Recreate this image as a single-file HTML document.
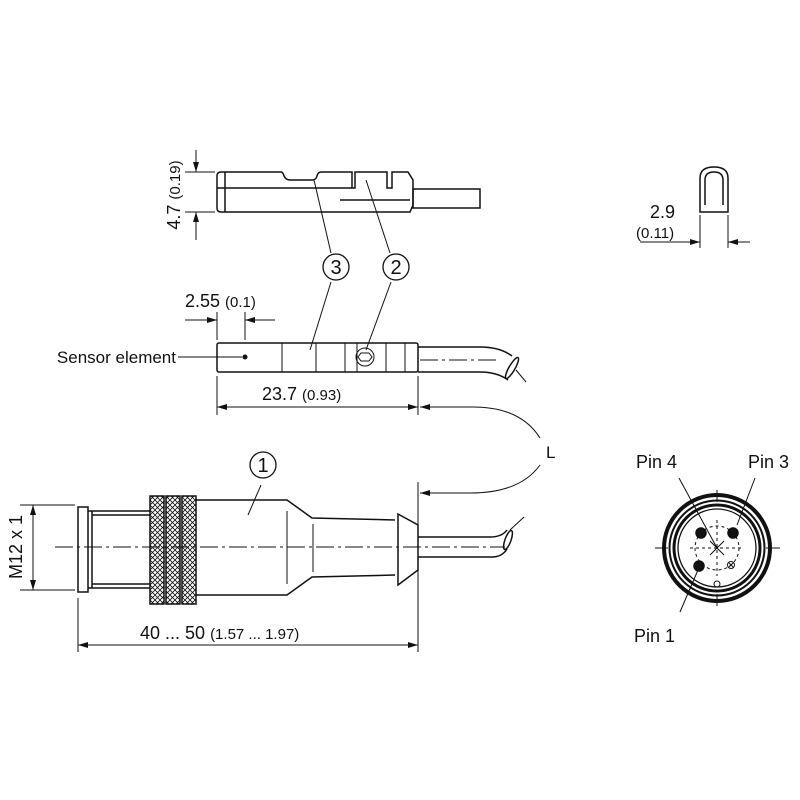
<!DOCTYPE html>
<html><head><style>body{margin:0;background:#fff}svg{display:block}text{font-family:"Liberation Sans",sans-serif;fill:#111}</style></head><body>
<svg width="800" height="800" viewBox="0 0 800 800" xmlns="http://www.w3.org/2000/svg">
<defs>
<marker id="a" markerWidth="10" markerHeight="6" refX="10" refY="3" orient="auto" markerUnits="userSpaceOnUse"><path d="M0,0L10,3L0,6z" fill="#111"/></marker>
<pattern id="k" width="5" height="5" patternUnits="userSpaceOnUse"><path d="M0,0L5,5M5,0L0,5" stroke="#111" stroke-width="0.8"/></pattern>
</defs>
<g fill="none" stroke="#111" stroke-width="1.5">
<!-- top view -->
<path d="M221,172H281Q283,172 284,176Q286,180 290,180H312Q316,180 317,176Q318,172 321,172H352V188H355V172H387V188H392V172H408L413,180V205L410,212H221Q217,212 217,208V176Q217,172 221,172Z"/>
<line x1="217" y1="188" x2="352" y2="188"/><line x1="340" y1="200" x2="410" y2="200"/><line x1="225" y1="172" x2="225" y2="212"/>
<rect x="413" y="189" width="67" height="19"/>
<g stroke-width="1"><line x1="185" y1="172" x2="215" y2="172"/><line x1="185" y1="212" x2="215" y2="212"/>
<line x1="196" y1="150" x2="196" y2="172" marker-end="url(#a)"/><line x1="196" y1="240" x2="196" y2="212" marker-end="url(#a)"/>
<line x1="314" y1="180" x2="331" y2="253"/><line x1="366" y1="180" x2="390" y2="253"/></g>
<circle cx="336" cy="267" r="13" stroke-width="1.3"/><circle cx="396" cy="267" r="13" stroke-width="1.3"/>
<!-- side view -->
<rect x="217" y="343" width="201" height="29" rx="2"/>
<g stroke-width="1"><line x1="282" y1="343" x2="282" y2="372"/><line x1="316" y1="343" x2="316" y2="372"/><line x1="345" y1="343" x2="345" y2="372"/><line x1="357" y1="343" x2="357" y2="372"/><line x1="386" y1="343" x2="386" y2="372"/><line x1="405" y1="343" x2="405" y2="372"/>
<circle cx="365" cy="357" r="9"/><path d="M361,353h8l3,4l-3,4h-8l-3,-4z"/>
<line x1="331" y1="282" x2="310" y2="350"/><line x1="391" y1="282" x2="366" y2="350"/>
<line x1="178" y1="357" x2="242" y2="357"/></g>
<circle cx="245" cy="357" r="1.8" fill="#111"/>
<path d="M418,347H480Q500,347 512,356M418,372H480Q497,372 508,380"/>
<ellipse cx="512" cy="368" rx="3" ry="12" transform="rotate(30 512 368)"/>
<g stroke-width="1"><line x1="420" y1="360" x2="500" y2="360" stroke-dasharray="18,4,3,4"/>
<line x1="217" y1="312" x2="217" y2="340"/><line x1="245" y1="312" x2="245" y2="340"/>
<line x1="185" y1="320" x2="217" y2="320" marker-end="url(#a)"/><line x1="275" y1="320" x2="245" y2="320" marker-end="url(#a)"/>
<line x1="217" y1="376" x2="217" y2="415"/><line x1="418" y1="376" x2="418" y2="415"/>
<line x1="318" y1="407" x2="418" y2="407" marker-end="url(#a)"/>
<line x1="318" y1="407" x2="217" y2="407" marker-end="url(#a)"/>
<path d="M540,438Q520,406 470,407H420" marker-end="url(#a)"/>
<path d="M540,465Q520,493 470,493H420" marker-end="url(#a)"/>
<line x1="516" y1="370" x2="526" y2="382"/></g>
<!-- right small -->
<path d="M700,212V178Q700,167 714,167Q728,167 728,178V212Z"/>
<path d="M705,205V180Q705,172 714,172Q723,172 723,180V205"/>
<g stroke-width="1"><line x1="700" y1="215" x2="700" y2="248"/><line x1="728" y1="215" x2="728" y2="248"/>
<line x1="640" y1="242" x2="700" y2="242" marker-end="url(#a)"/><line x1="750" y1="242" x2="728" y2="242" marker-end="url(#a)"/></g>
<!-- connector -->
<rect x="78" y="507" width="10" height="85"/>
<path d="M88,511H150M88,588H150M92,511V588M92,515H150M92,584H150"/>
<rect x="150" y="496" width="14" height="108" fill="url(#k)"/><rect x="166" y="496" width="14" height="108" fill="url(#k)"/><rect x="182" y="496" width="14" height="108" fill="url(#k)"/>
<path d="M196,500H287L312,518L395,520M196,595H287L312,577L395,575"/>
<path d="M398,514L418,525V570L398,585Z"/>
<g stroke-width="1"><line x1="287" y1="511" x2="287" y2="584"/><line x1="313" y1="524" x2="313" y2="572"/></g>
<path d="M418,537H490Q502,537 507,530M418,557H492Q502,557 507,549"/>
<ellipse cx="508" cy="540" rx="3" ry="10" transform="rotate(20 508 540)"/>
<g stroke-width="1"><line x1="55" y1="547" x2="505" y2="547" stroke-dasharray="18,4,3,4"/>
<line x1="510" y1="530" x2="524" y2="517"/>
<line x1="261" y1="485" x2="248" y2="515"/>
<line x1="20" y1="505" x2="75" y2="505"/><line x1="20" y1="590" x2="75" y2="590"/>
<line x1="33" y1="547" x2="33" y2="505" marker-end="url(#a)"/><line x1="33" y1="547" x2="33" y2="590" marker-end="url(#a)"/>
<line x1="78" y1="598" x2="78" y2="652"/><line x1="418" y1="482" x2="418" y2="652"/>
<line x1="250" y1="645" x2="78" y2="645" marker-end="url(#a)"/><line x1="250" y1="645" x2="418" y2="645" marker-end="url(#a)"/></g>
<circle cx="263" cy="465" r="13" stroke-width="1.3"/>
<!-- pin face -->
<circle cx="717" cy="548" r="53" stroke-width="4"/><circle cx="717" cy="548" r="47.5" stroke-width="2"/><circle cx="717" cy="548" r="43" stroke-width="3"/><circle cx="717" cy="548" r="39" stroke-width="1.3"/>
<g stroke-width="1"><line x1="655" y1="548" x2="668" y2="548"/><line x1="766" y1="548" x2="780" y2="548"/><line x1="717" y1="490" x2="717" y2="502"/><line x1="717" y1="594" x2="717" y2="606"/>
<g stroke-dasharray="3,3"><line x1="690" y1="548" x2="744" y2="548"/><line x1="717" y1="520" x2="717" y2="576"/><circle cx="717" cy="548" r="22"/></g>
<line x1="679" y1="478" x2="717" y2="548"/><line x1="755" y1="478" x2="737" y2="525"/><line x1="680" y1="612" x2="698" y2="570"/>
<circle cx="731" cy="565" r="3.5"/><path d="M729,563l4,4M733,563l-4,4"/><circle cx="717" cy="584" r="3"/>
<path d="M710,541l14,14M724,541l-14,14"/></g>
<circle cx="701" cy="533" r="5" fill="#111"/><circle cx="733" cy="533" r="5" fill="#111"/><circle cx="699" cy="566" r="5" fill="#111"/>
</g>
<g font-size="18">
<text x="180" y="195" text-anchor="middle" transform="rotate(-90 180 195)">4.7 <tspan font-size="15">(0.19)</tspan></text>
<text x="336" y="274" text-anchor="middle" font-size="20">3</text><text x="396" y="274" text-anchor="middle" font-size="20">2</text><text x="263" y="472" text-anchor="middle" font-size="20">1</text>
<text x="185" y="307">2.55 <tspan font-size="15">(0.1)</tspan></text>
<text x="176" y="363" text-anchor="end" font-size="17">Sensor element</text>
<text x="262" y="400">23.7 <tspan font-size="15">(0.93)</tspan></text>
<text x="546" y="458" font-size="17">L</text>
<text x="650" y="218">2.9</text><text x="636" y="238" font-size="15">(0.11)</text>
<text x="22" y="547" text-anchor="middle" transform="rotate(-90 22 547)">M12 x 1</text>
<text x="140" y="639">40 ... 50 <tspan font-size="15">(1.57 ... 1.97)</tspan></text>
<text x="636" y="468">Pin 4</text><text x="748" y="468">Pin 3</text><text x="634" y="642">Pin 1</text>
</g>
</svg>
</body></html>
